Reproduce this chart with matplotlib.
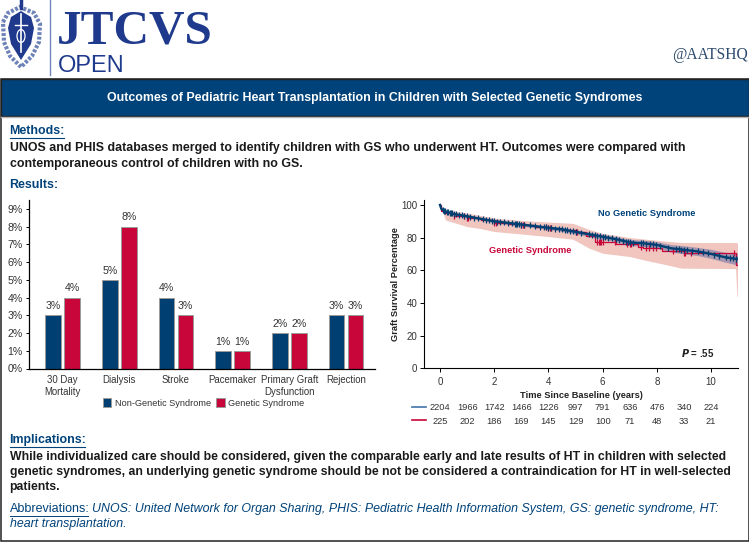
import matplotlib
matplotlib.use('Agg')
import matplotlib.pyplot as plt
from matplotlib.patches import Rectangle, Polygon, Ellipse
import numpy as np

W, H = 749, 542
SANS = 'Liberation Sans'
SERIF = 'Liberation Serif'
NAVY = '#00427a'
BLUE = '#003f72'
RED = '#c8063a'
TEXT = '#1a1a1a'
LOGO = '#1f3a8c'

# bar chart values
outcomes = ['30 Day\nMortality', 'Dialysis', 'Stroke', 'Pacemaker',
            'Primary Graft\nDysfunction', 'Rejection']
non_genetic = [3, 5, 4, 1, 2, 3]
genetic = [4, 8, 3, 1, 2, 3]
pct_ticks = list(range(10))

# survival curves
no_gs_t = [0, 0.05, 0.2, 0.5, 1, 1.5, 2, 2.5, 3, 3.5, 4, 4.5, 5, 5.5, 6, 6.5, 7,
           7.5, 8, 8.5, 9, 9.5, 10, 10.5, 10.9, 10.97]
no_gs_s = [100, 97.5, 96, 94.5, 93, 91.5, 90, 89, 88, 87, 86, 85, 83.5, 82, 80.5,
           79, 77, 76.5, 75.5, 73.5, 72.5, 71.5, 70, 68, 67, 67]
no_gs_hi = [100, 98.2, 96.8, 95.2, 93.8, 92.3, 91, 90, 89, 88, 87, 86.2, 84.8, 83.4,
            82, 80.6, 78.8, 78.4, 77.5, 75.8, 75, 74, 72.8, 71, 70.5, 70.5]
no_gs_lo = [100, 96.8, 95.2, 93.8, 92.2, 90.7, 89, 88, 87, 86, 85, 83.8, 82.2, 80.6,
            79, 77.4, 75.2, 74.6, 73.5, 71.2, 70, 69, 67.2, 65, 63.5, 63.5]
no_gs_cens = [0.1, 0.15, 0.2, 0.25, 0.3, 0.35, 0.4, 0.45, 0.5, 0.6, 0.7, 0.8, 0.9, 1.0,
              1.1, 1.25, 1.4, 1.6, 1.7, 1.8, 1.9, 2.0, 2.1, 2.2, 2.35, 2.5, 2.65, 2.75,
              2.8, 2.85, 2.9, 3.0, 3.1, 3.3, 3.5, 3.7, 3.85, 3.9, 4.0, 4.1, 4.25, 4.4,
              4.5, 4.6, 4.7, 4.8, 4.9, 5.0, 5.2, 5.5, 5.6, 5.7, 5.8, 5.9, 6.0, 6.1, 6.2,
              6.35, 6.5, 6.6, 6.75, 6.85, 6.95, 7.0, 7.1, 7.4, 7.5, 7.6, 7.75, 7.85, 7.95,
              8.1, 8.4, 8.7, 8.8, 8.9, 9.0, 9.1, 9.3, 9.5, 9.7, 9.9, 10.1, 10.3, 10.55,
              10.7, 10.8, 10.9]
gs_t = [0, 0.05, 0.2, 0.5, 1, 1.5, 2, 2.5, 3, 3.5, 4, 4.5, 5, 5.4, 5.7, 6, 6.5, 7,
        7.3, 7.5, 8, 8.2, 9, 9.5, 10, 10.8, 10.9, 10.97]
gs_s = [100, 96, 95, 93.5, 92, 90.5, 89, 88.5, 87.5, 86.5, 86, 84.5, 83.5, 81, 77.5,
        77.5, 76, 76, 74.5, 73.5, 73.5, 72, 70.5, 70.5, 70.5, 70.5, 63, 63]
gs_band_t = [0, 0.2, 1, 1.5, 2, 3, 4, 4.9, 5.5, 6, 7, 7.6, 8.2, 8.9, 10.9, 10.95, 10.97]
gs_hi = [100, 97, 95, 93.5, 92, 90.5, 89.5, 88.7, 85, 82.6, 80, 79, 78, 77, 77, 77, 76]
gs_lo = [100, 90.8, 86.7, 85.5, 83.7, 82.2, 80.6, 79, 73.5, 70.4, 68.4, 66, 63.9, 61.3, 61, 44, 44]
gs_cens = [0.5, 0.9, 1.0, 1.05, 2.0, 2.05, 3.0, 3.05, 3.1, 3.9, 4.0, 4.05, 4.1, 5.0, 5.05,
           5.8, 5.85, 5.9, 5.95, 6.0, 6.45, 6.9, 7.0, 7.05, 7.4, 7.6, 7.7, 7.85, 7.95,
           8.6, 9.0, 9.05, 9.25, 10.85]
year_ticks = list(range(0, 11, 2))
surv_ticks = list(range(0, 101, 20))
risk_years = list(range(0, 11))
risk_no_gs = [2204, 1966, 1742, 1466, 1226, 997, 791, 636, 476, 340, 224]
risk_gs = [225, 202, 186, 169, 145, 129, 100, 71, 48, 33, 21]

methods = ['UNOS and PHIS databases merged to identify children with GS who underwent HT. Outcomes were compared with',
           'contemporaneous control of children with no GS.']
implications = ['While individualized care should be considered, given the comparable early and late results of HT in children with selected',
                'genetic syndromes, an underlying genetic syndrome should be not be considered a contraindication for HT in well-selected',
                'patients.']
abbrev = ['UNOS: United Network for Organ Sharing, PHIS: Pediatric Health Information System, GS: genetic syndrome, HT:',
          'heart transplantation.']


def px_axes(fig, left, top, right, bottom):
    return fig.add_axes([left / W, 1 - bottom / H, (right - left) / W, (bottom - top) / H])


def step_value(t, s, when):
    return np.array(s)[np.searchsorted(t, when, side='right') - 1]


def draw_page(page):
    page.set_xlim(0, W)
    page.set_ylim(H, 0)
    page.axis('off')
    page.add_patch(Rectangle((0.5, 79), W - 1, 461.5, fc='white', ec='#222222', lw=1.1))
    page.add_patch(Rectangle((0.5, 79), W - 1, 37, fc=NAVY, ec='#222222', lw=1.0))
    page.plot([1, W - 1], [116.5, 116.5], color='#b5b5b5', lw=1)
    page.text(375, 97.5, 'Outcomes of Pediatric Heart Transplantation in Children with Selected Genetic Syndromes',
              color='white', fontsize=8.95, fontweight='bold', ha='center', va='center', family=SANS)

    def head(x, y, s, uline=None):
        page.text(x, y, s, color=NAVY, fontsize=8.9, fontweight='bold', va='center', family=SANS)
        if uline:
            page.plot([x, uline], [y + 6.5, y + 6.5], color=NAVY, lw=0.8)

    head(9.5, 131, 'Methods:', 64)
    for y, line in zip([148.5, 163.5], methods):
        page.text(9.5, y, line, color=TEXT, fontsize=8.9, fontweight='bold', va='center', family=SANS)
    head(9.5, 185, 'Results:')
    head(9.5, 440, 'Implications:', 85)
    for y, line in zip([457, 472, 487], implications):
        page.text(9.5, y, line, color=TEXT, fontsize=8.87, fontweight='bold', va='center', family=SANS)
    page.text(9.5, 509, 'Abbreviations:', color=NAVY, fontsize=9.0, va='center', family=SANS)
    page.plot([9.5, 88], [515.5, 515.5], color=NAVY, lw=0.7)
    page.text(92, 509, abbrev[0], color=NAVY, fontsize=8.95, style='italic', va='center', family=SANS)
    page.text(9.5, 524, abbrev[1], color=NAVY, fontsize=8.95, style='italic', va='center', family=SANS)

    # logo
    page.plot([50, 50], [0, 75], color='#6f86b8', lw=1)
    page.text(57, 43, 'JTCVS', color=LOGO, fontsize=35.5, fontweight='bold', family=SERIF, va='baseline')
    page.text(58, 72, 'OPEN', color=LOGO, fontsize=17, family=SANS, va='baseline')
    page.text(748, 55, '@AATSHQ', color='#2d4a6e', fontsize=11.2, family=SERIF, ha='right', va='center')
    wreath = Polygon([(3, 22), (8, 13), (20, 7), (34, 13), (40, 24), (39, 42), (32, 56), (21, 67), (10, 56), (4, 42)],
                     closed=True, fc='none', ec='#6d82b8', lw=3, ls=(0, (0.7, 0.4)))
    page.add_patch(wreath)
    page.add_patch(Polygon([(21, 11), (31, 17), (34, 28), (31, 44), (21, 60), (11, 44), (8, 28), (11, 17)],
                           closed=True, fc=LOGO, ec='none'))
    page.plot([21, 21], [14, 52], color='white', lw=1.2)
    page.plot([15, 27], [25, 25], color='white', lw=1)
    page.add_patch(Ellipse((21, 36), 8, 13, fc='none', ec='white', lw=0.9))
    page.plot([21, 21], [1, 8], color=LOGO, lw=2.5)


def draw_bars(ax):
    x = np.arange(len(outcomes))
    w = 0.277
    b1 = ax.bar(x - 0.167, non_genetic, w, color=BLUE, edgecolor='#9a9a9a', lw=0.7, label='Non-Genetic Syndrome')
    b2 = ax.bar(x + 0.167, genetic, w, color=RED, edgecolor='#9a9a9a', lw=0.7, label='Genetic Syndrome')
    for bars, vals in ((b1, non_genetic), (b2, genetic)):
        ax.bar_label(bars, labels=['%d%%' % v for v in vals], padding=3, fontsize=7.6, color='#333333', family=SANS)
    ax.set_xlim(-0.59, 5.51)
    ax.set_ylim(0, 9.5)
    ax.set_yticks(pct_ticks)
    ax.set_yticklabels(['%d%%' % v for v in pct_ticks], fontsize=7.6, color='#333333', family=SANS)
    ax.set_xticks(x)
    ax.set_xticklabels(outcomes, fontsize=6.95, color='#333333', family=SANS, linespacing=1.25)
    ax.tick_params(axis='x', length=0, pad=5)
    ax.tick_params(axis='y', length=2.5, width=0.7, pad=2)
    for side in ('top', 'right'):
        ax.spines[side].set_visible(False)
    ax.spines['left'].set_linewidth(0.9)
    ax.spines['bottom'].set_linewidth(0.9)
    ax.legend(loc='center', bbox_to_anchor=(0.505, -0.205), ncol=2, frameon=False, handlelength=0.9, handleheight=1.1,
              handletextpad=0.4, columnspacing=0.6, prop={'family': SANS, 'size': 6.6}, labelcolor='#333333')


def draw_survival(ax):
    ax.fill_between(gs_band_t, gs_lo, gs_hi, color='#f0c6bf', lw=0)
    ax.fill_between(no_gs_t, no_gs_lo, no_gs_hi, color='#8e86ab', alpha=0.75, lw=0)
    ax.step(gs_t, gs_s, where='post', color=RED, lw=0.9)
    ax.plot(gs_cens, step_value(gs_t, gs_s, gs_cens), '|', color=RED, ms=4, mew=0.9)
    # blue curve has so many small drops that it reads as a smooth line
    ax.plot(no_gs_t, no_gs_s, color=BLUE, lw=1.7)
    ax.plot(no_gs_cens, np.interp(no_gs_cens, no_gs_t, no_gs_s), '|', color=BLUE, ms=4, mew=0.9)
    ax.set_xlim(-0.58, 11)
    ax.set_ylim(0, 103)
    ax.set_xticks(year_ticks)
    ax.set_yticks(surv_ticks)
    ax.tick_params(length=3, width=0.7, labelsize=7, labelcolor='#333333')
    ax.tick_params(axis='x', pad=3)
    ax.tick_params(axis='y', pad=2)
    for lab in ax.get_xticklabels() + ax.get_yticklabels():
        lab.set_family(SANS)
    for side in ('top', 'right'):
        ax.spines[side].set_visible(False)
    ax.set_xlabel('Time Since Baseline (years)', fontsize=6.7, fontweight='bold', family=SANS, color='#222222', labelpad=3.5)
    ax.set_ylabel('Graft Survival Percentage', fontsize=6.7, fontweight='bold', family=SANS, color='#222222', labelpad=1)
    ax.text(5.82, 95, 'No Genetic Syndrome', color=NAVY, fontsize=6.7, fontweight='bold', family=SANS, va='center')
    ax.text(1.8, 71.8, 'Genetic Syndrome', color=RED, fontsize=6.7, fontweight='bold', family=SANS, va='center')
    ax.text(8.9, 9.6, r'$\bfit{P}$ = .55', fontsize=7, fontweight='bold', color='#222222', va='center', family=SANS,
            math_fontfamily='dejavusans')
    tr = ax.get_xaxis_transform()
    for yr, n1, n2 in zip(risk_years, risk_no_gs, risk_gs):
        ax.text(yr, -0.233, str(n1), transform=tr, ha='center', va='center', fontsize=6.7, color='#333333', family=SANS)
        ax.text(yr, -0.315, str(n2), transform=tr, ha='center', va='center', fontsize=6.7, color='#333333', family=SANS)


def main():
    fig = plt.figure(figsize=(W / 100, H / 100), dpi=100)
    page = fig.add_axes([0, 0, 1, 1])
    draw_page(page)
    page.plot([412, 426], [406.5, 406.5], color='#3f74a8', lw=1.2)
    page.plot([412, 426], [420, 420], color=RED, lw=1.2)
    draw_bars(px_axes(fig, 29, 200, 375, 368.5))
    draw_survival(px_axes(fig, 424.3, 200, 738.3, 368.3))
    fig.savefig('out.png', dpi=100)


if __name__ == "__main__":
    main()
